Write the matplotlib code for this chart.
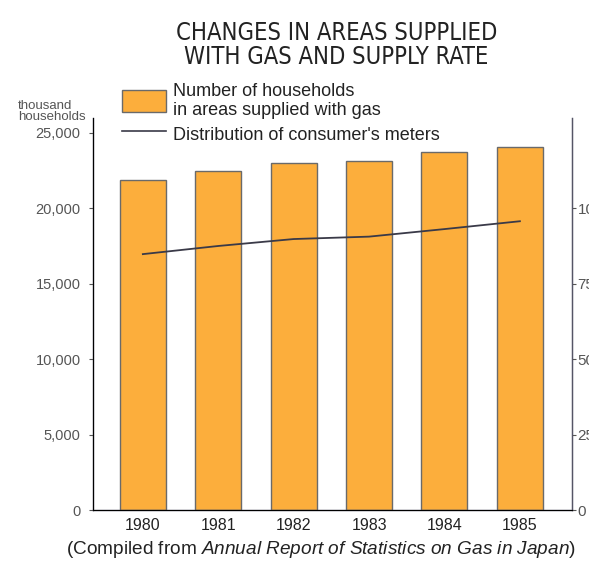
import matplotlib
matplotlib.use("Agg")
import matplotlib.pyplot as plt
from matplotlib.lines import Line2D
from matplotlib.patches import Patch

years = ["1980", "1981", "1982", "1983", "1984", "1985"]
households = [21850, 22500, 23000, 23100, 23700, 24050]  # thousand households
meters = [84.8, 87.5, 89.8, 90.6, 93.1, 95.7]  # distribution of consumer's meters (%)

bar_color = "#FCAE3C"
edge_color = "#6a6a6a"
line_color = "#3a3a48"
text_color = "#222222"
tick_color = "#555555"

plt.rcParams["font.family"] = ["Liberation Sans", "DejaVu Sans"]
plt.rcParams["mathtext.fontset"] = "custom"
plt.rcParams["mathtext.it"] = "Liberation Sans:italic"
plt.rcParams["mathtext.rm"] = "Liberation Sans"

fig = plt.figure(figsize=(5.89, 5.62), dpi=100)
ax = fig.add_axes([0.158, 0.0925, 0.813, 0.698])
x = list(range(len(years)))
ax.bar(x, households, width=0.61, color=bar_color, edgecolor=edge_color, linewidth=1.0)
ax.set_xlim(-0.66, 5.69)
ax.set_ylim(0, 26000)
ax.set_yticks([0, 5000, 10000, 15000, 20000, 25000])
ax.set_yticklabels(["0", "5,000", "10,000", "15,000", "20,000", "25,000"])
ax.set_xticks(x)
ax.set_xticklabels(years, fontsize=11.5, color=text_color)
ax.tick_params(axis="x", length=0, pad=6)
ax.tick_params(axis="y", length=3, width=0.8, colors=tick_color, labelsize=10.5, pad=6)
ax.spines["top"].set_visible(False)
for s in ["left", "bottom", "right"]:
    ax.spines[s].set_color("#555566")
    ax.spines[s].set_linewidth(1.0)

# right axis, labels run off the page edge as in the print
ax2 = ax.twinx()
ax2.plot(x, meters, color=line_color, linewidth=1.3)
ax2.set_ylim(0, 130)
ax2.set_yticks([0, 25, 50, 75, 100])
ax2.tick_params(axis="y", length=3, width=0.8, colors=tick_color, labelsize=11, pad=1)
ax2.spines["top"].set_visible(False)
ax2.spines["right"].set_color("#555566")

fig.text(0.03, 0.781, "thousand\nhouseholds", fontsize=9.5, color=tick_color,
         ha="left", va="bottom", linespacing=0.85)

fig.text(0.571, 0.962, "CHANGES IN AREAS SUPPLIED\nWITH GAS AND SUPPLY RATE",
         family="DejaVu Sans", stretch="condensed", fontsize=17,
         color=text_color, ha="center", va="top", linespacing=1.0)

handles = [Patch(facecolor=bar_color, edgecolor=edge_color),
           Line2D([], [], color=line_color, linewidth=1.2)]
labels = ["Number of households\nin areas supplied with gas",
          "Distribution of consumer's meters"]
fig.legend(handles, labels, loc="upper left", bbox_to_anchor=(0.207, 0.853),
           frameon=False, fontsize=13, handlelength=2.45, handleheight=1.5,
           handletextpad=0.4, labelspacing=0.2, borderpad=0, borderaxespad=0,
           labelcolor=text_color)

fig.text(0.112, 0.004,
         r"(Compiled from $\mathit{Annual\ Report\ of\ Statistics\ on\ Gas\ in\ Japan}$)",
         fontsize=13.7, color=text_color, ha="left", va="bottom")

fig.savefig("out.png", dpi=100)
